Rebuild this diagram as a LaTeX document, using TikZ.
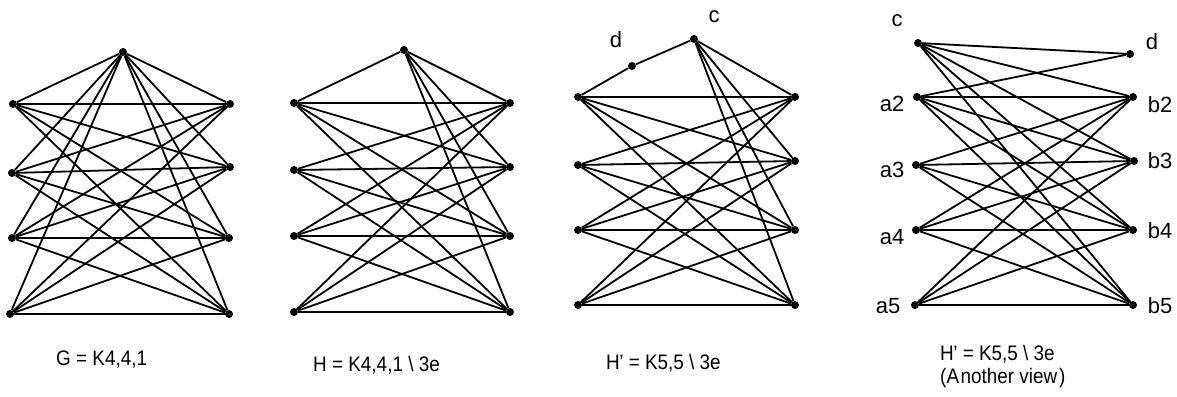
\documentclass[tikz,border=0pt]{standalone}
\usepackage{fontspec}
\setmainfont{Liberation Sans}
\newfontfamily\narrowfont[FakeStretch=0.9,Ligatures=TeX]{Liberation Sans}
\begin{document}
\begin{tikzpicture}[x=1pt,y=-1pt,
  v/.style={circle,fill=black,inner sep=0pt,minimum size=8pt},
  e/.style={line width=1.8pt},
  lab/.style={inner sep=0pt,anchor=base,font=\fontsize{22}{26}\selectfont},
  capt/.style={inner sep=0pt,anchor=base west,font=\narrowfont\fontsize{21}{23}\selectfont,align=left}]
\useasboundingbox (0,0) rectangle (1177,396);
% ---------- Graph 1: G = K4,4,1
\node[v] (gT) at (123,52) {};
\node[v] (gL1) at (13,104) {};
\node[v] (gL2) at (12,173) {};
\node[v] (gL3) at (12,238) {};
\node[v] (gL4) at (10,314) {};
\node[v] (gR1) at (230,104) {};
\node[v] (gR2) at (230,167) {};
\node[v] (gR3) at (229,238) {};
\node[v] (gR4) at (229,314) {};
\foreach \i in {1,...,4}{
  \draw[e] (gT) -- (gL\i);
  \draw[e] (gT) -- (gR\i);
  \foreach \j in {1,...,4}{\draw[e] (gL\i) -- (gR\j);}
}
% ---------- Graph 2: H = K4,4,1 \ 3e
\node[v] (hT) at (404,50) {};
\node[v] (hL1) at (294,103) {};
\node[v] (hL2) at (294,170) {};
\node[v] (hL3) at (294,236) {};
\node[v] (hL4) at (294,312) {};
\node[v] (hR1) at (510,103) {};
\node[v] (hR2) at (510,167) {};
\node[v] (hR3) at (510,236) {};
\node[v] (hR4) at (510,312) {};
\draw[e] (hT) -- (hL1);
\foreach \i in {1,...,4}{
  \draw[e] (hT) -- (hR\i);
  \foreach \j in {1,...,4}{\draw[e] (hL\i) -- (hR\j);}
}
% ---------- Graph 3: H' = K5,5 \ 3e
\node[v] (kc) at (694,39) {};
\node[v] (kd) at (632,66) {};
\node[v] (kL1) at (578,97) {};
\node[v] (kL2) at (578,165) {};
\node[v] (kL3) at (578,230) {};
\node[v] (kL4) at (578,305) {};
\node[v] (kR1) at (795,97) {};
\node[v] (kR2) at (795,161) {};
\node[v] (kR3) at (795,230) {};
\node[v] (kR4) at (795,305) {};
\draw[e] (kL1) -- (kd) -- (kc);
\foreach \i in {1,...,4}{
  \draw[e] (kc) -- (kR\i);
  \foreach \j in {1,...,4}{\draw[e] (kL\i) -- (kR\j);}
}
\node[lab] (kclab) at (714,23) {c};
\node[lab] (kdlab) at (616,48) {d};
% ---------- Graph 4: another view
\node[v] (mc) at (918,43) {};
\node[v] (md) at (1130,54) {};
\node[v] (ma2) at (917,97) {};
\node[v] (ma3) at (916,165) {};
\node[v] (ma4) at (916,230) {};
\node[v] (ma5) at (915,305) {};
\node[v] (mb2) at (1133,97) {};
\node[v] (mb3) at (1134,161) {};
\node[v] (mb4) at (1133,230) {};
\node[v] (mb5) at (1133,305) {};
\draw[e] (mc) -- (md);
\draw[e] (ma2) -- (md);
\foreach \i in {2,...,5}{
  \draw[e] (mc) -- (mb\i);
  \foreach \j in {2,...,5}{\draw[e] (ma\i) -- (mb\j);}
}
\node[lab] (mclab) at (897,27) {c};
\node[lab] (mdlab) at (1152,50) {d};
\node[lab] (ma2lab) at (892,111) {a2};
\node[lab] (ma3lab) at (892,177) {a3};
\node[lab] (ma4lab) at (892,244) {a4};
\node[lab] (ma5lab) at (888,313) {a5};
\node[lab] (mb2lab) at (1160,112) {b2};
\node[lab] (mb3lab) at (1160,168) {b3};
\node[lab] (mb4lab) at (1160,238) {b4};
\node[lab] (mb5lab) at (1160,313) {b5};
% ---------- captions
\node[capt] (cap1) at (56,365) {G = K4,4,1};
\node[capt] (cap2) at (313,371) {H = K4,4,1 \textbackslash\ 3e};
\node[capt] (cap3) at (606,369) {H\kern-0.5pt’{} = K5,5 \textbackslash\ 3e};
\node[capt] (cap4) at (940,383) {H\kern-0.5pt’{} = K5,5 \textbackslash\ 3e\\[0pt](A\kern1.5pt nother view\kern2pt)};
\end{tikzpicture}
\end{document}
